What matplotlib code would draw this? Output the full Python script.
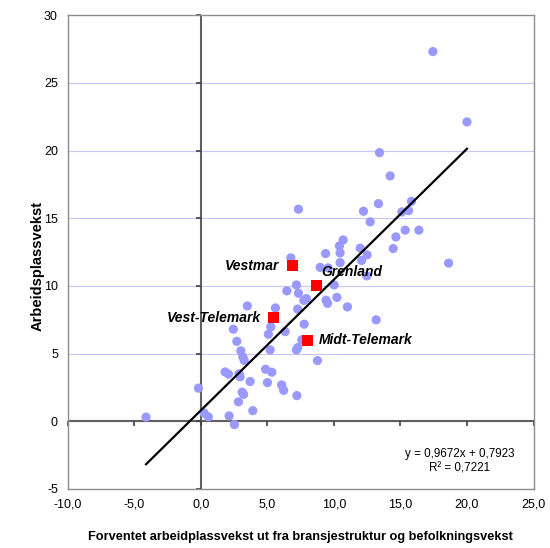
import numpy as np
import matplotlib
matplotlib.use("Agg")
import matplotlib.pyplot as plt

plt.rcParams['font.family'] = ['Liberation Sans', 'DejaVu Sans']

# Kommuner (blå punkter): forventet vekst (x) og faktisk arbeidsplassvekst (y)
x_komm = [17.44, 20.0, 13.43, 14.23, 15.83, 15.11, 15.61, 13.35, 12.23, 12.73,
          7.34, 15.36, 16.39, 14.66, 14.46, 10.70, 10.42, 10.47, 9.38, 11.98,
          12.50, 12.09, 18.62, 6.77, 10.47, 8.97, 9.57, 12.48, 10.02, 7.19,
          6.47, 7.34, 7.94, 7.74, 9.42, 9.53, 10.23, 11.02, 3.50, 5.61,
          7.28, 13.18, 7.77, 5.26, 5.08, 6.34, 2.45, 2.71, 7.59, 7.29,
          7.19, 5.21, 3.01, 3.16, 3.27, 8.77, 1.83, 2.08, 2.88, 2.95,
          4.87, 5.34, 3.71, 5.01, 6.08, 6.23, 7.22, 3.11, 3.22, -0.17,
          2.83, 3.91, 0.25, 0.57, 2.13, 2.53, -4.11]
y_komm = [27.32, 22.12, 19.85, 18.13, 16.25, 15.47, 15.57, 16.08, 15.52, 14.73,
          15.67, 14.12, 14.12, 13.62, 12.76, 13.40, 12.96, 12.44, 12.39, 12.79,
          12.29, 11.88, 11.68, 12.07, 11.72, 11.37, 11.33, 10.74, 10.07, 10.07,
          9.63, 9.46, 9.06, 8.93, 8.94, 8.71, 9.15, 8.45, 8.52, 8.37,
          8.29, 7.49, 7.17, 6.97, 6.43, 6.62, 6.80, 5.90, 6.01, 5.44,
          5.27, 5.27, 5.20, 4.75, 4.49, 4.48, 3.64, 3.48, 3.50, 3.28,
          3.84, 3.62, 2.93, 2.85, 2.68, 2.28, 1.89, 2.14, 1.98, 2.44,
          1.43, 0.78, 0.61, 0.32, 0.39, -0.25, 0.30]

# Regioner (røde firkanter)
regioner = ['Vestmar', 'Grenland', 'Vest-Telemark', 'Midt-Telemark']
x_reg = [6.86, 8.71, 5.44, 8.05]
y_reg = [11.49, 10.0, 7.63, 5.97]

# Trendlinje
a, b = 0.9672, 0.7923
r2 = 0.7221

xticks = [-10, -5, 0, 5, 10, 15, 20, 25]
yticks = [-5, 0, 5, 10, 15, 20, 25, 30]

fig = plt.figure(figsize=(5.5, 5.48), dpi=100)
ax = fig.add_axes([0.123, 0.108, 0.847, 0.864])
ax.set_xlim(-10, 25)
ax.set_ylim(-5, 30)

# gridlinjer
for yt in yticks[1:-1]:
    ax.axhline(yt, color='#C8C8F4', lw=0.9, zorder=0)

# akser gjennom null
ax.axhline(0, color='#606060', lw=1.5, zorder=1)
ax.axvline(0, color='#606060', lw=1.5, zorder=1)
ax.plot(xticks, [0] * len(xticks), ls='none', marker=3, ms=3.5, mew=1.2, color='#404040', zorder=1, clip_on=False)
ax.plot([0] * len(yticks), yticks, ls='none', marker=0, ms=3.5, mew=1.2, color='#404040', zorder=1, clip_on=False)

ax.scatter(x_komm, y_komm, s=44, color='#9999FF', edgecolors='none', zorder=2)

xl = np.array([min(x_komm), max(x_komm)])
ax.plot(xl, a * xl + b, color='black', lw=1.6, zorder=3)

ax.scatter(x_reg, y_reg, s=62, marker='s', color='#FF0000', edgecolors='none', zorder=4)

offsets = {'Vestmar': (-9, 0, 'right'), 'Grenland': (3, 10, 'left'),
           'Vest-Telemark': (-9, 0, 'right'), 'Midt-Telemark': (8, 0, 'left')}
for navn, xr, yr in zip(regioner, x_reg, y_reg):
    dx, dy, ha = offsets[navn]
    ax.annotate(navn, (xr, yr), xytext=(dx, dy), textcoords='offset points',
                ha=ha, va='center', fontsize=10, fontweight='bold', fontstyle='italic', zorder=5)

ax.text(19.45, -2.95, f'y = {a}x + {b}\nR² = {r2}'.replace('.', ','),
        ha='center', va='center', fontsize=8.4, linespacing=1.25)

ax.set_xticks(xticks)
ax.set_xticklabels([f'{v:.1f}'.replace('.', ',') for v in xticks])
ax.set_yticks(yticks)
ax.set_yticklabels([str(v) for v in yticks])
ax.tick_params(length=0, labelsize=9, pad=7)

for s in ax.spines.values():
    s.set_color('#8C8C8C')
    s.set_linewidth(1.0)

ax.set_xlabel('Forventet arbeidplassvekst ut fra bransjestruktur og befolkningsvekst',
              fontsize=9.2, fontweight='bold')
ax.xaxis.set_label_coords(0.5, -0.09)
ax.set_ylabel('Arbeidsplassvekst', fontsize=10.5, fontweight='bold')
ax.yaxis.set_label_coords(-0.049, 0.47)

fig.savefig('out.png', dpi=100)
